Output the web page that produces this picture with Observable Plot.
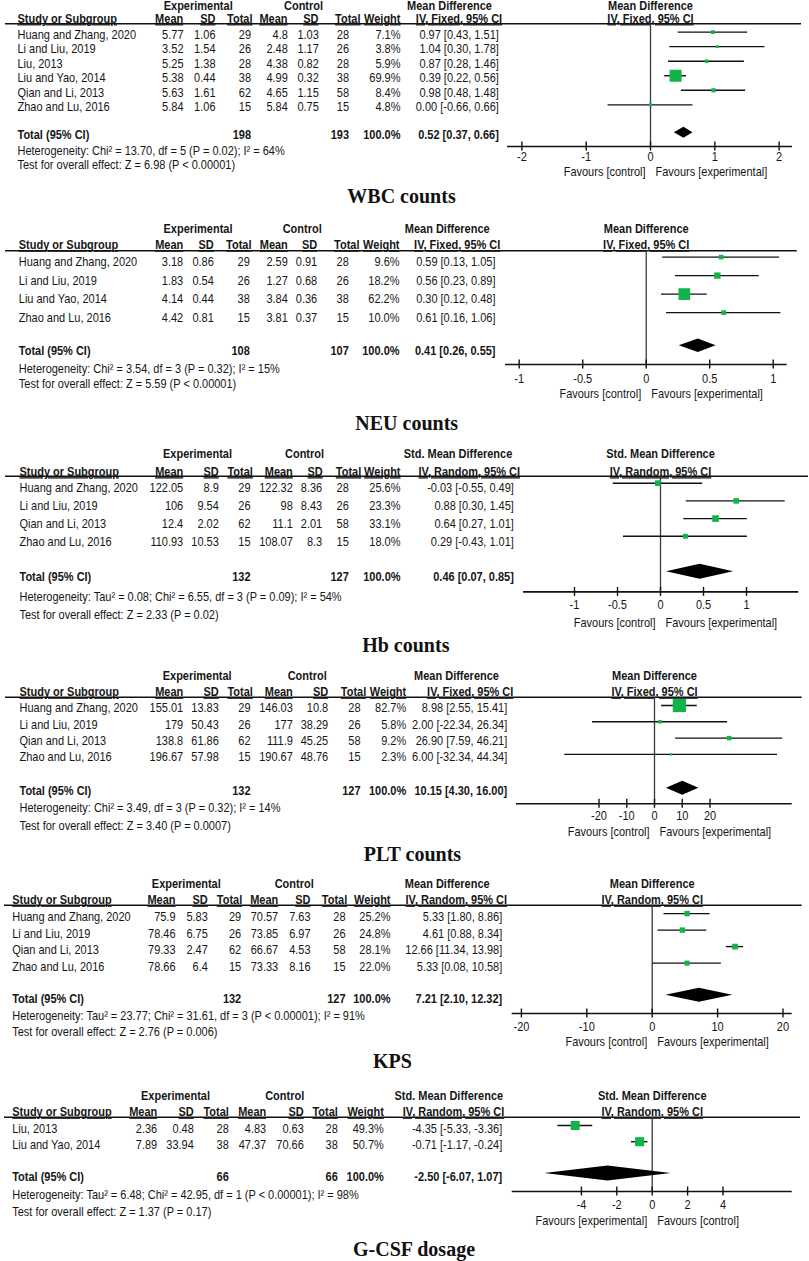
<!DOCTYPE html>
<html><head><meta charset="utf-8">
<script src="https://cdn.jsdelivr.net/npm/d3@7"></script>
<script src="https://cdn.jsdelivr.net/npm/@observablehq/plot@0.6"></script>
<style>
body{margin:0;background:#fff;}
#root{position:relative;width:809px;height:1261px;overflow:hidden;background:#fff;}
.ttl{position:absolute;transform:translateX(-50%);font-family:"Liberation Serif","Times New Roman",serif;font-weight:bold;font-size:20px;line-height:20px;white-space:nowrap;color:#111;}
</style></head>
<body><div id="root"></div>
<script>
// ---------------- DATA ----------------
// WBC counts
const wbcStudy = ["Huang and Zhang, 2020","Li and Liu, 2019","Liu, 2013","Liu and Yao, 2014","Qian and Li, 2013","Zhao and Lu, 2016"];
const wbcExp = [[5.77,1.06,29],[3.52,1.54,26],[5.25,1.38,28],[5.38,0.44,38],[5.63,1.61,62],[5.84,1.06,15]];
const wbcCtl = [[4.8,1.03,28],[2.48,1.17,26],[4.38,0.82,28],[4.99,0.32,38],[4.65,1.15,58],[5.84,0.75,15]];
const wbcWeight = [7.1,3.8,5.9,69.9,8.4,4.8];
const wbcEffect = [[0.97,0.43,1.51],[1.04,0.30,1.78],[0.87,0.28,1.46],[0.39,0.22,0.56],[0.98,0.48,1.48],[0.00,-0.66,0.66]];
const wbcTotal = [198,193,0.52,0.37,0.66];
const wbcHet = "Heterogeneity: Chi² = 13.70, df = 5 (P = 0.02); I² = 64%";
const wbcTest = "Test for overall effect: Z = 6.98 (P < 0.00001)";
const wbcTicks = [-2,-1,0,1,2];

// NEU counts
const neuStudy = ["Huang and Zhang, 2020","Li and Liu, 2019","Liu and Yao, 2014","Zhao and Lu, 2016"];
const neuExp = [[3.18,0.86,29],[1.83,0.54,26],[4.14,0.44,38],[4.42,0.81,15]];
const neuCtl = [[2.59,0.91,28],[1.27,0.68,26],[3.84,0.36,38],[3.81,0.37,15]];
const neuWeight = [9.6,18.2,62.2,10.0];
const neuEffect = [[0.59,0.13,1.05],[0.56,0.23,0.89],[0.30,0.12,0.48],[0.61,0.16,1.06]];
const neuTotal = [108,107,0.41,0.26,0.55];
const neuHet = "Heterogeneity: Chi² = 3.54, df = 3 (P = 0.32); I² = 15%";
const neuTest = "Test for overall effect: Z = 5.59 (P < 0.00001)";
const neuTicks = [-1,-0.5,0,0.5,1];

// Hb counts
const hbStudy = ["Huang and Zhang, 2020","Li and Liu, 2019","Qian and Li, 2013","Zhao and Lu, 2016"];
const hbExp = [[122.05,8.9,29],[106,9.54,26],[12.4,2.02,62],[110.93,10.53,15]];
const hbCtl = [[122.32,8.36,28],[98,8.43,26],[11.1,2.01,58],[108.07,8.3,15]];
const hbWeight = [25.6,23.3,33.1,18.0];
const hbEffect = [[-0.03,-0.55,0.49],[0.88,0.30,1.45],[0.64,0.27,1.01],[0.29,-0.43,1.01]];
const hbTotal = [132,127,0.46,0.07,0.85];
const hbHet = "Heterogeneity: Tau² = 0.08; Chi² = 6.55, df = 3 (P = 0.09); I² = 54%";
const hbTest = "Test for overall effect: Z = 2.33 (P = 0.02)";
const hbTicks = [-1,-0.5,0,0.5,1];

// PLT counts
const pltStudy = ["Huang and Zhang, 2020","Li and Liu, 2019","Qian and Li, 2013","Zhao and Lu, 2016"];
const pltExp = [[155.01,13.83,29],[179,50.43,26],[138.8,61.86,62],[196.67,57.98,15]];
const pltCtl = [[146.03,10.8,28],[177,38.29,26],[111.9,45.25,58],[190.67,48.76,15]];
const pltWeight = [82.7,5.8,9.2,2.3];
const pltEffect = [[8.98,2.55,15.41],[2.00,-22.34,26.34],[26.90,7.59,46.21],[6.00,-32.34,44.34]];
const pltTotal = [132,127,10.15,4.30,16.00];
const pltHet = "Heterogeneity: Chi² = 3.49, df = 3 (P = 0.32); I² = 14%";
const pltTest = "Test for overall effect: Z = 3.40 (P = 0.0007)";
const pltTicks = [-20,-10,0,10,20];

// KPS
const kpsStudy = ["Huang and Zhang, 2020","Li and Liu, 2019","Qian and Li, 2013","Zhao and Lu, 2016"];
const kpsExp = [[75.9,5.83,29],[78.46,6.75,26],[79.33,2.47,62],[78.66,6.4,15]];
const kpsCtl = [[70.57,7.63,28],[73.85,6.97,26],[66.67,4.53,58],[73.33,8.16,15]];
const kpsWeight = [25.2,24.8,28.1,22.0];
const kpsEffect = [[5.33,1.80,8.86],[4.61,0.88,8.34],[12.66,11.34,13.98],[5.33,0.08,10.58]];
const kpsTotal = [132,127,7.21,2.10,12.32];
const kpsHet = "Heterogeneity: Tau² = 23.77; Chi² = 31.61, df = 3 (P < 0.00001); I² = 91%";
const kpsTest = "Test for overall effect: Z = 2.76 (P = 0.006)";
const kpsTicks = [-20,-10,0,10,20];

// G-CSF dosage
const gcsfStudy = ["Liu, 2013","Liu and Yao, 2014"];
const gcsfExp = [[2.36,0.48,28],[7.89,33.94,38]];
const gcsfCtl = [[4.83,0.63,28],[47.37,70.66,38]];
const gcsfWeight = [49.3,50.7];
const gcsfEffect = [[-4.35,-5.33,-3.36],[-0.71,-1.17,-0.24]];
const gcsfTotal = [66,66,-2.50,-6.07,1.07];
const gcsfHet = "Heterogeneity: Tau² = 6.48; Chi² = 42.95, df = 1 (P < 0.00001); I² = 98%";
const gcsfTest = "Test for overall effect: Z = 1.37 (P = 0.17)";
const gcsfTicks = [-4,-2,0,2,4];

const titles = ["WBC counts","NEU counts","Hb counts","PLT counts","KPS","G-CSF dosage"];
const favNormal = ["Favours [control]","Favours [experimental]"];
const favSwap = ["Favours [experimental]","Favours [control]"];

// ---------------- LAYOUT ----------------
const LAY = [
 {sy:1.1,hdr1:5.2,hdr2:18.8,line:23.3,row0:34.3,step:14.55,total:135,axis:146,het:150.7,test:164.3,tickLab:157,fav:172,title:203,titleX:401.5,lineX:[5,801],axisX:[507,792],xDomain:[-2.224,2.208],name:17,cols:[183,215,250.5,287.3,318.3,348.5,400,498.3],hdrCols:[182.7,215,252,287,318,360,400],expC:197.7,ctlC:303,mdC:449,ivC:458.5,rMax:8.1,mk:2.7,dh:5.5},
 {sy:1.2,hdr1:227.7,hdr2:244.3,line:250,row0:261.3,step:18.5,total:350,axis:363.7,het:367.7,test:383.3,tickLab:378.3,fav:393,title:430,titleX:406.7,lineX:[5,796.7],axisX:[505,786.7],xDomain:[-1.108,1.110],name:18.3,cols:[182.7,213.3,249.3,287.3,316.7,348.3,399,495],hdrCols:[182.7,213.3,251,287.3,316.7,359,399],expC:197.5,ctlC:301.7,mdC:446.7,ivC:456.7,rMax:8.4,mk:5,dh:6.7},
 {sy:1.2,hdr1:453.3,hdr2:471.7,line:476,row0:488,step:17.7,total:576.5,axis:591.7,het:596.7,test:615,tickLab:605,fav:622.7,title:652,titleX:405.8,lineX:[5,808],axisX:[523,798.3],xDomain:[-1.593,1.608],name:19,cols:[182.7,218.3,250,292.3,321.7,348.3,400,513.3],hdrCols:[182.7,218.3,252.3,292.3,322.3,360.7,400],expC:197,ctlC:304,mdC:457.5,ivC:468.8,rMax:6.5,mk:5,dh:7.5},
 {sy:1.2,hdr1:675,hdr2:691.7,line:696.7,row0:707.5,step:16.3,total:790.3,axis:803.3,het:807.5,test:825,tickLab:815.7,fav:831,title:861,titleX:412.5,lineX:[5,801.7],axisX:[516,791.7],xDomain:[-49.73,49.62],name:19,cols:[182.7,218.3,250,292.3,327.7,360,405.7,506.7],hdrCols:[182.7,218.3,252.3,292.3,327.7,365.7,405.7],expC:196.7,ctlC:306.7,mdC:456,ivC:469.7,rMax:8.25,mk:2.5,dh:7},
 {sy:1.2,hdr1:883.3,hdr2:900,line:905,row0:916.7,step:16.5,total:998.3,axis:1013.3,het:1016,test:1031.7,tickLab:1026.7,fav:1041.7,title:1068,titleX:392.5,lineX:[4,801.7],axisX:[511.7,791.7],xDomain:[-21.41,21.41],name:11.7,cols:[175,207.3,240.7,277.7,310,345,390,501.7],hdrCols:[175,207.3,241.7,277.7,310,346.7,390],expC:185.8,ctlC:293.7,mdC:446.7,ivC:455.8,rMax:6.1,mk:3.3,dh:7},
 {sy:1.2,hdr1:1095,hdr2:1111.7,line:1116.7,row0:1128,step:16.2,total:1176,axis:1191,het:1194.3,test:1211.7,tickLab:1204,fav:1220,title:1256,titleX:414,lineX:[4,800],axisX:[511.7,791.7],xDomain:[-7.91,7.91],name:11.7,cols:[156.7,193.3,228.3,265.7,303.3,337.3,383.3,501.7],hdrCols:[156.7,193.3,228.3,265.7,303.3,337.3,383.3],expC:175,ctlC:284.2,mdC:448.3,ivC:453,rMax:7.2,mk:3,dh:7.5}
];

const PANELS = [
 {study:wbcStudy,exp:wbcExp,ctl:wbcCtl,weight:wbcWeight,effect:wbcEffect,total:wbcTotal,het:wbcHet,test:wbcTest,ticks:wbcTicks,measure:"Mean Difference",method:"IV, Fixed, 95% CI",fav:favNormal},
 {study:neuStudy,exp:neuExp,ctl:neuCtl,weight:neuWeight,effect:neuEffect,total:neuTotal,het:neuHet,test:neuTest,ticks:neuTicks,measure:"Mean Difference",method:"IV, Fixed, 95% CI",fav:favNormal},
 {study:hbStudy,exp:hbExp,ctl:hbCtl,weight:hbWeight,effect:hbEffect,total:hbTotal,het:hbHet,test:hbTest,ticks:hbTicks,measure:"Std. Mean Difference",method:"IV, Random, 95% CI",fav:favNormal},
 {study:pltStudy,exp:pltExp,ctl:pltCtl,weight:pltWeight,effect:pltEffect,total:pltTotal,het:pltHet,test:pltTest,ticks:pltTicks,measure:"Mean Difference",method:"IV, Fixed, 95% CI",fav:favNormal},
 {study:kpsStudy,exp:kpsExp,ctl:kpsCtl,weight:kpsWeight,effect:kpsEffect,total:kpsTotal,het:kpsHet,test:kpsTest,ticks:kpsTicks,measure:"Mean Difference",method:"IV, Random, 95% CI",fav:favNormal},
 {study:gcsfStudy,exp:gcsfExp,ctl:gcsfCtl,weight:gcsfWeight,effect:gcsfEffect,total:gcsfTotal,het:gcsfHet,test:gcsfTest,ticks:gcsfTicks,measure:"Std. Mean Difference",method:"IV, Random, 95% CI",fav:favSwap}
];

// ---------------- DRAW ----------------
const FONT = "Liberation Sans, Arial, Helvetica, sans-serif";
const GREEN = "#12b34b";
const INK = "#161616";
const root = document.getElementById("root");
const f2 = v => v.toFixed(2);
const eff = (e, l, h) => `${f2(e)} [${f2(l)}, ${f2(h)}]`;

function forest(p, L) {
  const top = Math.max(0, L.hdr1 - 11);
  const H = Math.round(L.fav + 9 - top);
  const row = px => (px - L.row0) / L.step;
  const rows = p.study.map((s, i) => ({i, s, e: p.exp[i], c: p.ctl[i], w: p.weight[i],
    est: p.effect[i][0], lo: p.effect[i][1], hi: p.effect[i][2]}));
  const x0 = L.lineX[0];
  const font = {fontFamily: FONT, fontSize: 11, fill: INK};
  const at = cx => ({frameAnchor: "left", dx: cx - x0});
  const col = (text, cx, anchor) => Plot.text(rows, {y: "i", text, textAnchor: anchor, ...at(cx), ...font});
  const lbl = (txt, px, cx, anchor, weight) => Plot.text([txt], {y: () => row(px), text: d => d, textAnchor: anchor, fontWeight: weight, ...at(cx), ...font});
  const ctr = (txt, px, weight) => Plot.text([txt], {x: () => 0, y: () => row(px), text: d => d, textAnchor: "middle", fontWeight: weight, ...font});
  const [tE, tC, tEst, tLo, tHi] = p.total;
  const ty = row(L.total);
  const dh = L.dh / L.step;
  const diamond = [{x: tLo, a: ty, b: ty}, {x: tEst, a: ty - dh, b: ty + dh}, {x: tHi, a: ty, b: ty}];
  const ay = row(L.axis);
  const th = 4.5 / L.step;
  const hc = L.hdrCols;

  const svg = Plot.plot({
    width: 809, height: H,
    marginLeft: L.lineX[0], marginRight: 809 - L.lineX[1], marginTop: 0, marginBottom: 0,
    x: {domain: L.xDomain, range: L.axisX, axis: null},
    y: {domain: [0, 1], range: [L.row0 - top, L.row0 - top + L.step], axis: null},
    r: {type: "sqrt", domain: [0, 100], range: [0, L.rMax]},
    style: {fontFamily: FONT, fontSize: "11px", color: INK, background: "transparent", overflow: "visible"},
    marks: [
      // header row 1
      lbl("Experimental", L.hdr1, L.expC, "middle", "bold"),
      lbl("Control", L.hdr1, L.ctlC, "middle", "bold"),
      lbl(p.measure, L.hdr1, L.mdC, "middle", "bold"),
      ctr(p.measure, L.hdr1, "bold"),
      // header row 2
      lbl("Study or Subgroup", L.hdr2, L.name, "start", "bold"),
      lbl("Mean", L.hdr2, hc[0], "end", "bold"),
      lbl("SD", L.hdr2, hc[1], "end", "bold"),
      lbl("Total", L.hdr2, hc[2], "end", "bold"),
      lbl("Mean", L.hdr2, hc[3], "end", "bold"),
      lbl("SD", L.hdr2, hc[4], "end", "bold"),
      lbl("Total", L.hdr2, hc[5], "end", "bold"),
      lbl("Weight", L.hdr2, hc[6], "end", "bold"),
      lbl(p.method, L.hdr2, L.ivC, "middle", "bold"),
      ctr(p.method, L.hdr2, "bold"),
      Plot.ruleY([row(L.line)], {stroke: "#111", strokeWidth: 1.4}),
      // study rows
      col(d => d.s, L.name, "start"),
      col(d => String(d.e[0]), L.cols[0], "end"),
      col(d => String(d.e[1]), L.cols[1], "end"),
      col(d => String(d.e[2]), L.cols[2], "end"),
      col(d => String(d.c[0]), L.cols[3], "end"),
      col(d => String(d.c[1]), L.cols[4], "end"),
      col(d => String(d.c[2]), L.cols[5], "end"),
      col(d => d.w.toFixed(1) + "%", L.cols[6], "end"),
      col(d => eff(d.est, d.lo, d.hi), L.cols[7], "end"),
      // total row
      lbl("Total (95% CI)", L.total, L.name, "start", "bold"),
      lbl(String(tE), L.total, L.cols[2], "end", "bold"),
      lbl(String(tC), L.total, L.cols[5], "end", "bold"),
      lbl("100.0%", L.total, L.cols[6], "end", "bold"),
      lbl(eff(tEst, tLo, tHi), L.total, L.cols[7], "end", "bold"),
      lbl(p.het, L.het, L.name, "start", "normal"),
      lbl(p.test, L.test, L.name, "start", "normal"),
      // forest
      Plot.ruleX([0], {x: d => d, y1: () => row(L.line), y2: () => ay, stroke: "#3a3a3a", strokeWidth: 1.3}),
      Plot.ruleY(rows, {y: "i", x1: "lo", x2: "hi", dy: -L.mk, stroke: "#111", strokeWidth: 1.4}),
      Plot.dot(rows, {x: "est", y: "i", r: "w", symbol: "square", fill: GREEN, stroke: "none", dy: -L.mk}),
      Plot.areaY(diamond, {x: "x", y1: "a", y2: "b", fill: "#000", curve: "linear", dy: -L.mk}),
      // axis
      Plot.ruleY([ay], {x1: () => L.xDomain[0], x2: () => L.xDomain[1], stroke: "#111", strokeWidth: 1.6}),
      Plot.ruleX(p.ticks, {x: d => d, y1: () => ay - th, y2: () => ay + th, stroke: "#111", strokeWidth: 1.4}),
      Plot.text(p.ticks, {x: d => d, y: () => row(L.tickLab), text: d => String(d), textAnchor: "middle", ...font}),
      Plot.text([p.fav[0]], {x: () => 0, y: () => row(L.fav), text: d => d, dx: -5, textAnchor: "end", ...font}),
      Plot.text([p.fav[1]], {x: () => 0, y: () => row(L.fav), text: d => d, dx: 5, textAnchor: "start", ...font})
    ]
  });
  const U = new Set(["Study or Subgroup", "Mean", "SD", "Total", "Weight", p.method]);
  const sel = d3.select(svg).selectAll("text");
  sel.filter(function () { return U.has(this.textContent); }).style("text-decoration", "underline");
  // stretch glyphs vertically about each text's own anchor point (keeps position)
  sel.each(function () {
    const t = this.getAttribute("transform");
    if (t) {
      this.setAttribute("transform", `${t} scale(1,${L.sy})`);
    } else {
      const x = +this.getAttribute("x") || 0, y = +this.getAttribute("y") || 0;
      this.removeAttribute("x"); this.removeAttribute("y");
      this.setAttribute("transform", `translate(${x},${y}) scale(1,${L.sy})`);
    }
  });
  svg.style.position = "absolute";
  svg.style.left = "0px";
  svg.style.top = top + "px";
  root.appendChild(svg);
}

PANELS.forEach((p, k) => {
  const L = LAY[k];
  forest(p, L);
  const t = document.createElement("div");
  t.className = "ttl";
  t.textContent = titles[k];
  t.style.left = L.titleX + "px";
  t.style.top = (L.title - 16.75) + "px";
  root.appendChild(t);
});
</script>
</body></html>
